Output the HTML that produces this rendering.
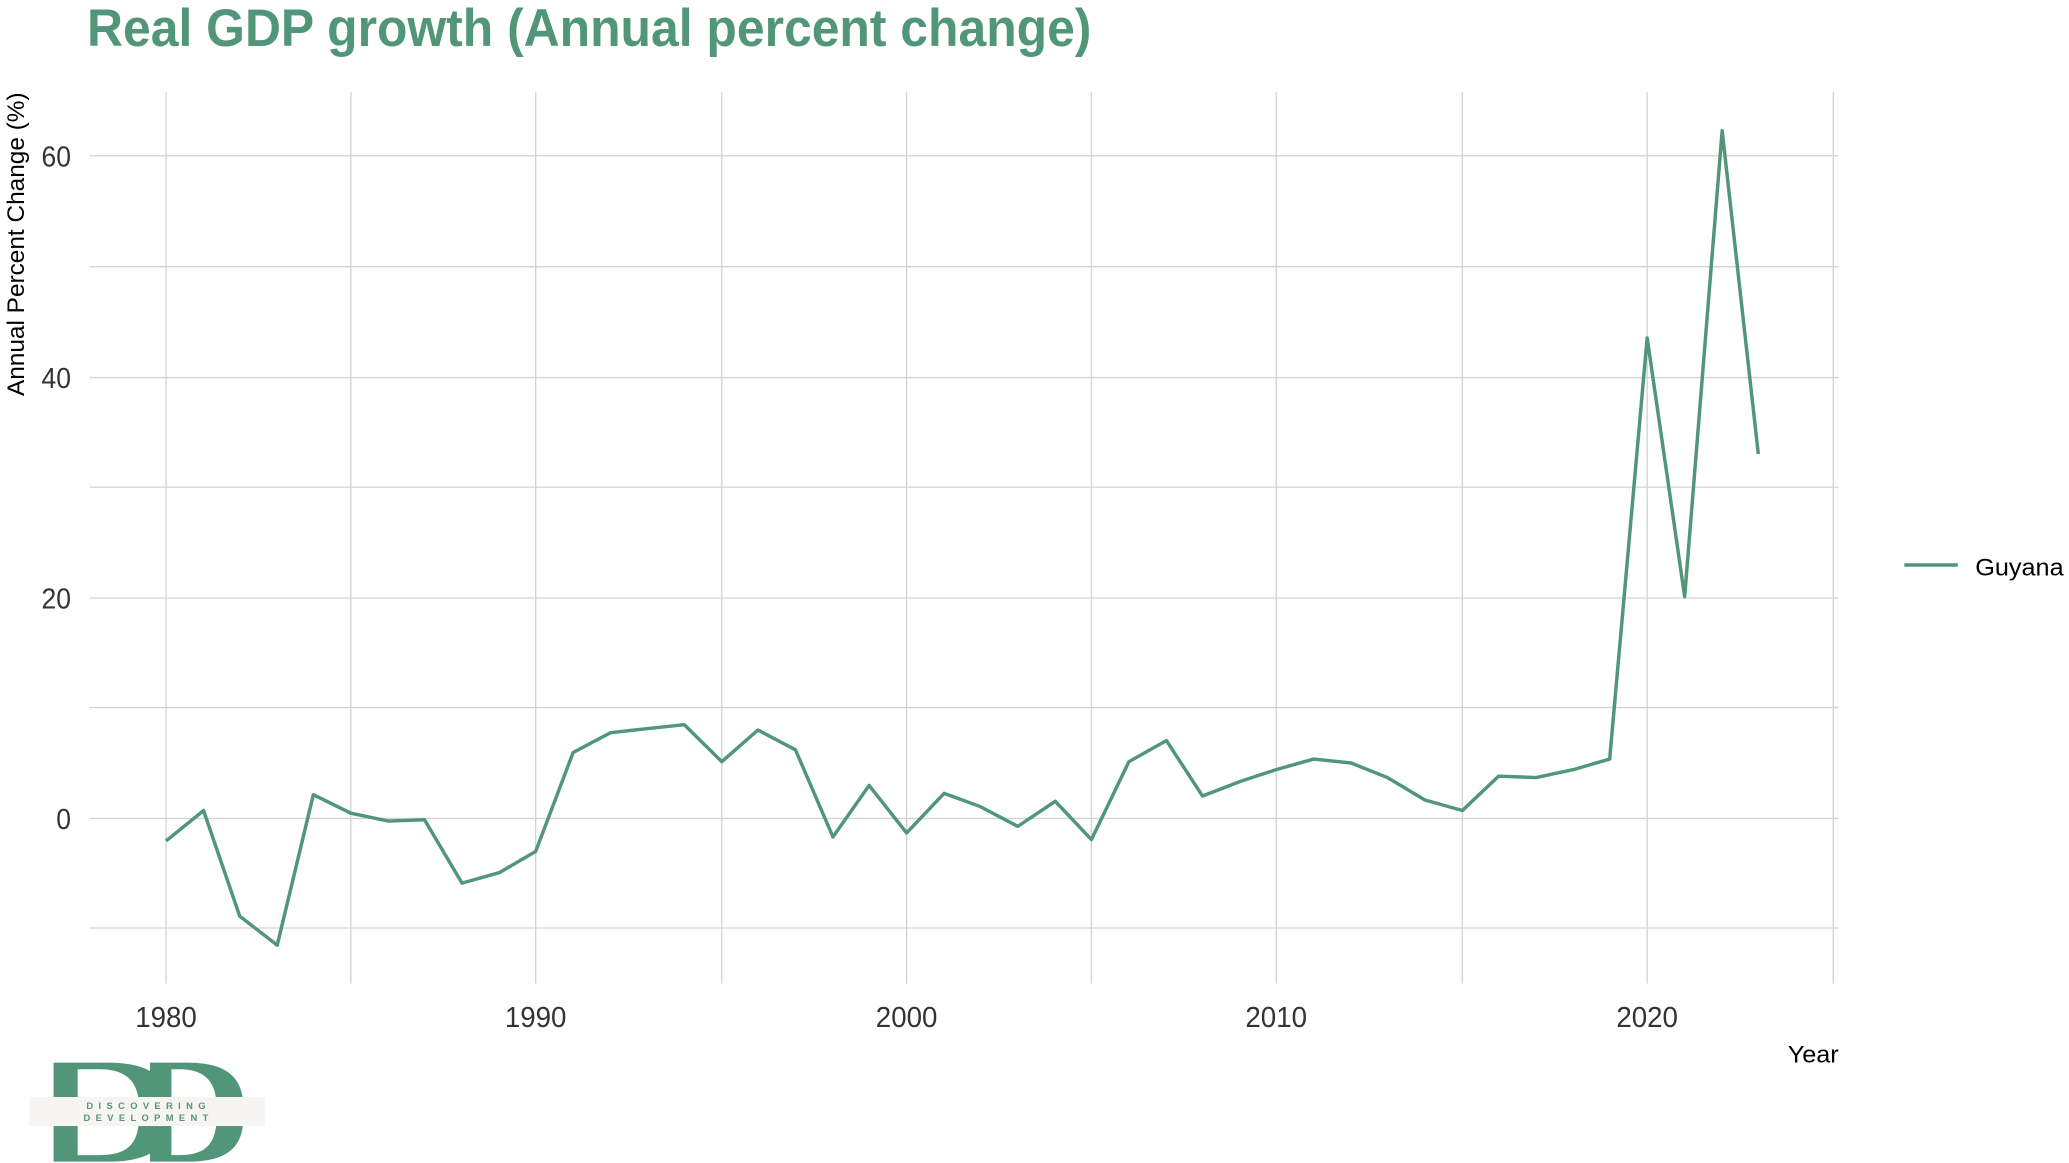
<!DOCTYPE html>
<html><head><meta charset="utf-8"><style>
html,body{margin:0;padding:0;background:#fff;}
svg{display:block;}
text{font-family:"Liberation Sans",sans-serif;}
</style></head><body>
<svg width="2069" height="1163" viewBox="0 0 1545 881" preserveAspectRatio="none" xmlns="http://www.w3.org/2000/svg">
<text x="65" y="35" font-size="40" font-weight="bold" fill="#52967a" textLength="750" lengthAdjust="spacingAndGlyphs">Real GDP growth (Annual percent change)</text>
<g stroke="#d3d3d3" stroke-width="1">
<line x1="124" y1="70" x2="124" y2="745"/><line x1="262" y1="70" x2="262" y2="745"/>
<line x1="400" y1="70" x2="400" y2="745"/><line x1="539" y1="70" x2="539" y2="745"/>
<line x1="677" y1="70" x2="677" y2="745"/><line x1="815" y1="70" x2="815" y2="745"/>
<line x1="953" y1="70" x2="953" y2="745"/><line x1="1092" y1="70" x2="1092" y2="745"/>
<line x1="1230" y1="70" x2="1230" y2="745"/><line x1="1369" y1="70" x2="1369" y2="745"/>
<line x1="67" y1="118" x2="1373" y2="118"/><line x1="67" y1="202" x2="1373" y2="202"/>
<line x1="67" y1="286" x2="1373" y2="286"/><line x1="67" y1="369" x2="1373" y2="369"/>
<line x1="67" y1="453" x2="1373" y2="453"/><line x1="67" y1="536" x2="1373" y2="536"/>
<line x1="67" y1="620" x2="1373" y2="620"/><line x1="67" y1="703" x2="1373" y2="703"/>
</g>
<g font-size="22" fill="#333" text-anchor="end">
<text x="53" y="126" textLength="22" lengthAdjust="spacingAndGlyphs">60</text>
<text x="53" y="294" textLength="22" lengthAdjust="spacingAndGlyphs">40</text>
<text x="53" y="461" textLength="22" lengthAdjust="spacingAndGlyphs">20</text>
<text x="53" y="628" textLength="11" lengthAdjust="spacingAndGlyphs">0</text>
</g>
<g font-size="22" fill="#333" text-anchor="middle">
<text x="124" y="778" textLength="46" lengthAdjust="spacingAndGlyphs">1980</text>
<text x="400" y="778" textLength="46" lengthAdjust="spacingAndGlyphs">1990</text>
<text x="677" y="778" textLength="46" lengthAdjust="spacingAndGlyphs">2000</text>
<text x="953" y="778" textLength="46" lengthAdjust="spacingAndGlyphs">2010</text>
<text x="1230" y="778" textLength="46" lengthAdjust="spacingAndGlyphs">2020</text>
</g>
<text x="1373" y="805" font-size="18" fill="#000" text-anchor="end" textLength="38" lengthAdjust="spacingAndGlyphs">Year</text>
<text transform="translate(18,185) rotate(-90)" font-size="18" fill="#000" text-anchor="middle" textLength="230" lengthAdjust="spacingAndGlyphs">Annual Percent Change (%)</text>
<polyline fill="none" stroke="#52967a" stroke-width="2.6" stroke-linejoin="round" points="124,637 152,614 179,694 207,716 234,602 262,616 290,622 317,621 345,669 373,661 400,645 428,570 456,555 483,552 511,549 539,577 566,553 594,568 622,634 649,595 677,631 705,601 732,611 760,626 788,607 815,636 843,577 871,561 898,603 926,592 953,583 981,575 1009,578 1036,589 1064,606 1092,614 1119,588 1147,589 1175,583 1202,575 1230,256 1258,452 1286,99 1313,344"/>
<line x1="1422" y1="428" x2="1462" y2="428" stroke="#52967a" stroke-width="2.6"/>
<text x="1475" y="436" font-size="18" fill="#000" textLength="66" lengthAdjust="spacingAndGlyphs">Guyana</text>
<g fill="#52967a">
<path d="M40,805 L40,880 L80,880 C122,880 126,862 126,842 C126,822 120,805 80,805 Z M58,810 L74,810 C100,810 104,825 104,842 C104,862 100,875 74,875 L58,875 Z" fill-rule="evenodd"/>
<path d="M112,805 L112,880 L140,880 C178,880 182,862 182,842 C182,822 176,805 140,805 Z M128,810 L134,810 C158,810 162,825 162,842 C162,862 158,875 134,875 L128,875 Z" fill-rule="evenodd"/>
</g>
<rect x="22" y="831" width="176" height="22" fill="#f6f5f3"/>
<text x="111" y="840" font-size="7" font-weight="bold" fill="#52967a" text-anchor="middle" letter-spacing="4">DISCOVERING</text>
<text x="111" y="849" font-size="7" font-weight="bold" fill="#52967a" text-anchor="middle" letter-spacing="4">DEVELOPMENT</text>
</svg>
</body></html>
